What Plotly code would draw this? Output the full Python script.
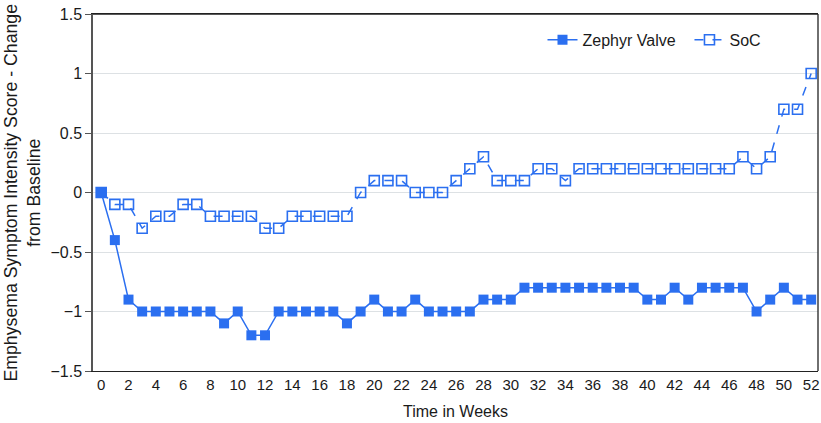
import plotly.graph_objects as go

weeks = list(range(0, 53))
zephyr = [0, -0.4, -0.9, -1, -1, -1, -1, -1, -1, -1.1, -1, -1.2, -1.2, -1, -1, -1, -1, -1, -1.1, -1,
          -0.9, -1, -1, -0.9, -1, -1, -1, -1, -0.9, -0.9, -0.9, -0.8, -0.8, -0.8, -0.8, -0.8, -0.8,
          -0.8, -0.8, -0.8, -0.9, -0.9, -0.8, -0.9, -0.8, -0.8, -0.8, -0.8, -1, -0.9, -0.8, -0.9, -0.9]
soc = [0, -0.1, -0.1, -0.3, -0.2, -0.2, -0.1, -0.1, -0.2, -0.2, -0.2, -0.2, -0.3, -0.3, -0.2, -0.2,
       -0.2, -0.2, -0.2, 0, 0.1, 0.1, 0.1, 0, 0, 0, 0.1, 0.2, 0.3, 0.1, 0.1, 0.1, 0.2, 0.2, 0.1,
       0.2, 0.2, 0.2, 0.2, 0.2, 0.2, 0.2, 0.2, 0.2, 0.2, 0.2, 0.2, 0.3, 0.2, 0.3, 0.7, 0.7, 1.0]
x_ticks = list(range(0, 53, 2))
y_ticks = [-1.5, -1, -0.5, 0, 0.5, 1, 1.5]
y_labels = ["\u22121.5", "\u22121", "\u22120.5", "0", "0.5", "1", "1.5"]
series_names = ["Zephyr Valve", "SoC"]

blue = "#2b6ff0"
font_main = "Liberation Sans, Arial, sans-serif"
fig = go.Figure()
fig.add_trace(go.Scatter(x=weeks, y=zephyr, mode="lines+markers", name=series_names[0] + "\u00a0\u00a0",
                         line=dict(color=blue, width=1.5),
                         marker=dict(symbol="square", size=10, color=blue)))
fig.add_trace(go.Scatter(x=weeks, y=soc, mode="lines+markers", name=series_names[1],
                         line=dict(color=blue, width=1.5, dash="dash"),
                         marker=dict(symbol="square-open", size=10, color=blue,
                                     line=dict(width=1.6, color=blue))))

fig.update_layout(
    width=821, height=423,
    margin=dict(l=93, r=3, t=14, b=52, autoexpand=False),
    paper_bgcolor="white", plot_bgcolor="white",
    font=dict(family=font_main, size=16, color="#1a1a1a"),
    legend=dict(orientation="h", x=0.62, xanchor="left", y=0.975, yanchor="top",
                font=dict(size=16), bgcolor="rgba(0,0,0,0)", tracegroupgap=0),
    showlegend=True,
)
fig.update_xaxes(range=[-0.6, 52.5], tickvals=x_ticks, ticktext=[str(t) for t in x_ticks],
                 showgrid=False, zeroline=False, showline=True, linecolor="#222", linewidth=1.3,
                 mirror=True, ticks="", automargin=False, tickfont=dict(size=15),
                 title=dict(text="Time in Weeks", font=dict(size=16), standoff=13))
fig.update_yaxes(range=[-1.5, 1.5], tickvals=y_ticks, ticktext=y_labels,
                 showgrid=True, gridcolor="#dde1e4", gridwidth=1, zeroline=False,
                 showline=True, linecolor="#555", linewidth=1.5, mirror=False, automargin=False,
                 ticks="outside", ticklen=6, tickcolor="#555", tickfont=dict(size=16))
fig.add_annotation(text="Emphysema Symptom Intensity Score - Change<br>from Baseline",
                   xref="paper", yref="paper", x=0, y=0.5, xanchor="center", yanchor="middle",
                   xshift=-71, textangle=-90, showarrow=False, font=dict(size=17.7))
# top/right border
fig.add_shape(type="line", xref="paper", yref="paper", x0=0, x1=1, y0=1, y1=1, line=dict(color="#222", width=1.3))
fig.add_shape(type="line", xref="paper", yref="paper", x0=1, x1=1, y0=0, y1=1, line=dict(color="#222", width=1.3))

fig.write_html("out.html", config={"displayModeBar": False},
               post_script="document.body.style.margin='0';document.body.style.padding='0';document.body.style.overflow='hidden';")
